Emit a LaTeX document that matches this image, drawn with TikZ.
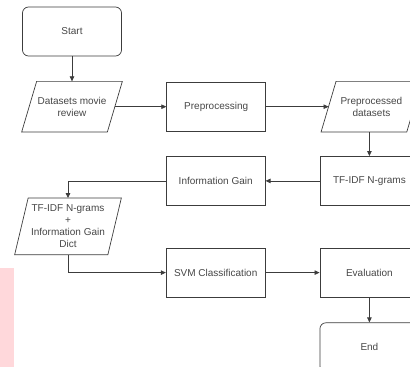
\documentclass[tikz,border=0pt]{standalone}
\usepackage{fontspec}
\setmainfont{Liberation Sans}
\usetikzlibrary{arrows.meta, positioning}
\definecolor{boxline}{RGB}{60,60,60}
\definecolor{boxtext}{RGB}{70,70,70}
\definecolor{markpink}{RGB}{255,216,219}
\tikzset{
>={Triangle[length=5pt,width=4.5pt]}, % small solid arrow heads
every node/.style={font=\fontsize{10}{12}\selectfont, text=boxtext, align=center}, % text of all boxes
process/.style={draw=boxline, minimum width=99pt, minimum height=49pt}, % plain step
terminal/.style={process, rounded corners=6pt}, % start and end
io/.style={minimum width=85pt, minimum height=50pt, inner sep=1pt}, % data, frame drawn by \ioframe
flow/.style={->, draw=boxline}, % connectors
}
% slanted frame round a data node
\newcommand{\ioframe}[2][7.5pt]{\draw[boxline] ([xshift=#1]#2.north west) -- ([xshift=#1]#2.north east) -- ([xshift=-#1]#2.south east) -- ([xshift=-#1]#2.south west) -- cycle;}

\begin{document}
\begin{tikzpicture}[x=1pt, y=-1pt, line width=0.7pt]
      \useasboundingbox (0,0) rectangle (410,367);
      \fill[markpink] (0,268) rectangle (14,367);

      \node[terminal] (start) at (72,31.5) {Start};
      \node[io, below=25pt of start] (movies) {Datasets movie\\review};
      \node[process, right=51.5pt of movies] (prep) {Preprocessing};
      \node[io, right=62.5pt of prep] (ppd) {Preprocessed\\datasets};
      \node[process, below=24pt of ppd, xshift=-2pt] (tfidf) {TF-IDF N-grams};
      \node[process, left=54pt of tfidf] (igain) {Information Gain};
      \node[io, below=66pt of movies, xshift=-4pt, minimum width=92.5pt, minimum height=56pt] (combo) {TF-IDF N-grams\\+\\Information Gain\\Dict};
      \node[process, below=42pt of igain] (svm) {SVM Classification};
      \node[process, right=54pt of svm] (eval) {Evaluation};
      \node[terminal, below=25pt of eval] (end) {End};

      \ioframe{movies}
      \ioframe{ppd}
      \ioframe[6.75pt]{combo}

      \draw[flow] (start) -- (movies);
      \draw[flow] (movies) -- (prep);
      \draw[flow] (prep) -- (ppd);
      \draw[flow] (ppd.south -| tfidf.north) -- (tfidf.north);
      \draw[flow] (tfidf) -- (igain);
      \draw[flow] (igain) -| (combo);
      \draw[flow] (combo) |- (svm);
      \draw[flow] (svm) -- (eval);
      \draw[flow] (eval) -- (end);
\end{tikzpicture}
\end{document}
